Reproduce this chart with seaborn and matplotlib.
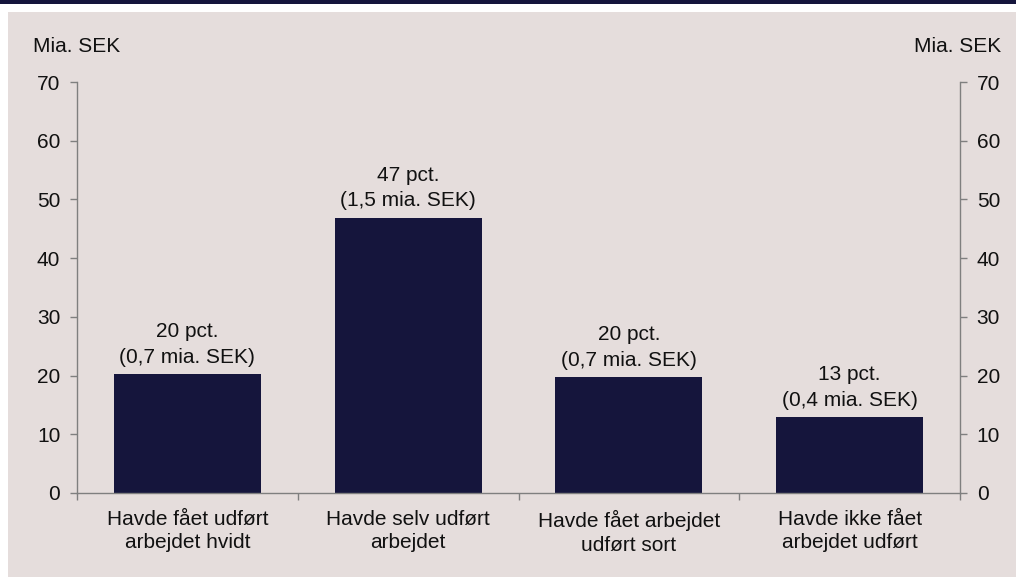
import matplotlib
matplotlib.use("Agg")
import matplotlib.pyplot as plt
import seaborn as sns
import pandas as pd
from matplotlib.patches import Rectangle
from matplotlib.ticker import FixedLocator, MultipleLocator

categories = ["Havde fået udført\narbejdet hvidt", "Havde selv udført\narbejdet",
              "Havde fået arbejdet\nudført sort", "Havde ikke fået\narbejdet udført"]
values = [20.2, 46.9, 19.7, 12.9]
labels = ["20 pct.\n(0,7 mia. SEK)", "47 pct.\n(1,5 mia. SEK)",
          "20 pct.\n(0,7 mia. SEK)", "13 pct.\n(0,4 mia. SEK)"]

sns.set_theme(style="white")
plt.rcParams['font.family'] = ['Liberation Sans', 'DejaVu Sans']

BG = "#E5DDDC"
NAVY = "#15153C"
GRAY = "#7F7F7F"
TXT = "#111111"
FS = 15

W, H = 1016, 579
fig = plt.figure(figsize=(W/100, H/100), dpi=100, facecolor="white")
fig.patches.append(Rectangle((8/W, 2/H), 1-8/W, 1-14/H, transform=fig.transFigure,
                             facecolor=BG, edgecolor="none", zorder=-10))
fig.patches.append(Rectangle((0, 1-3.5/H), 1, 3.5/H, transform=fig.transFigure,
                             facecolor=NAVY, edgecolor="none", zorder=-10))

ax = fig.add_axes([77/W, 1-493/H, (960-77)/W, (493-82)/H])
ax.set_facecolor("none")
df = pd.DataFrame({"cat": categories, "val": values})
sns.barplot(data=df, x="cat", y="val", order=categories, color=NAVY, width=0.667,
            saturation=1, ax=ax, edgecolor="none")

for i, (v, t) in enumerate(zip(values, labels)):
    ax.text(i, v + 1.3, t, ha="center", va="bottom", fontsize=FS, color=TXT,
            linespacing=1.42)

ax.set_ylim(0, 70)
ax.set_xlim(-0.5, 3.5)
ax.yaxis.set_major_locator(MultipleLocator(10))
ax.set_xlabel("")
ax.set_ylabel("")
for s in ["left", "right", "bottom"]:
    ax.spines[s].set_color(GRAY)
    ax.spines[s].set_linewidth(1)
ax.spines["top"].set_visible(False)
ax.tick_params(axis="y", which="major", left=True, right=True, labelleft=True, labelright=True,
               direction="out", length=5, width=1, color=GRAY, labelsize=FS, pad=7,
               labelcolor=TXT)
ax.tick_params(axis="x", which="major", length=0, labelsize=FS, pad=12, labelcolor=TXT)
ax.xaxis.set_minor_locator(FixedLocator([-0.5, 0.5, 1.5, 2.5, 3.5]))
ax.tick_params(axis="x", which="minor", bottom=True, direction="out", length=5, width=1, color=GRAY)
for lbl in ax.get_xticklabels():
    lbl.set_linespacing(1.32)

fig.text(33/W, 1-46/H, "Mia. SEK", ha="left", va="center", fontsize=FS, color=TXT)
fig.text(1001/W, 1-46/H, "Mia. SEK", ha="right", va="center", fontsize=FS, color=TXT)

fig.savefig("out.png", dpi=100, facecolor="white")
